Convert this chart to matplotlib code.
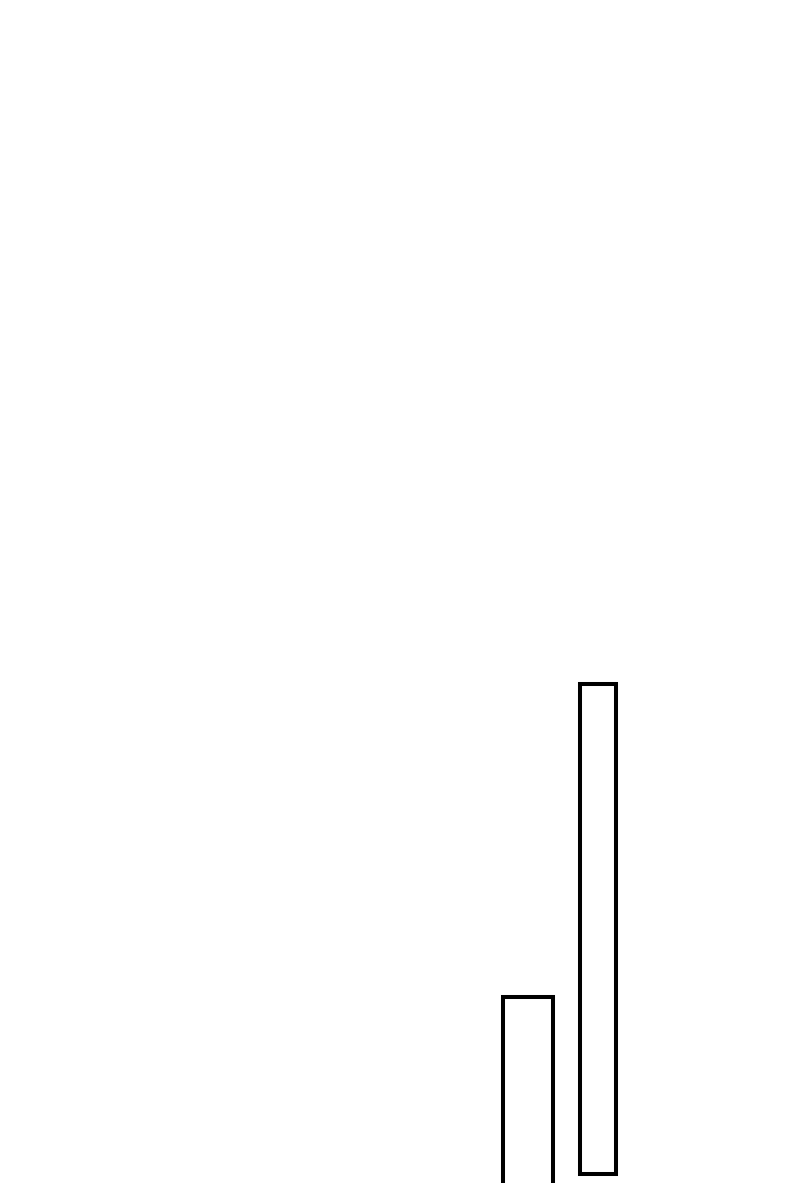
import matplotlib
matplotlib.use("Agg")
import matplotlib.pyplot as plt

# bar data (axes units match the 800x1183 canvas, y measured upward)
bar_names = ["left", "right"]
bar_centers = [528, 598]
bar_widths = [50, 36]
bar_bottoms = [-20, 9]
bar_tops = [186, 499]

heights = [t - b for t, b in zip(bar_tops, bar_bottoms)]

fig = plt.figure(figsize=(8, 11.83), dpi=100)
ax = fig.add_axes([0, 0, 1, 1])

ax.bar(bar_centers, heights, width=bar_widths, bottom=bar_bottoms,
       facecolor="white", edgecolor="black", linewidth=2.9)

ax.set_xlim(0, 800)
ax.set_ylim(0, 1183)
ax.axis("off")

fig.savefig("out.png", dpi=100, facecolor="white")
